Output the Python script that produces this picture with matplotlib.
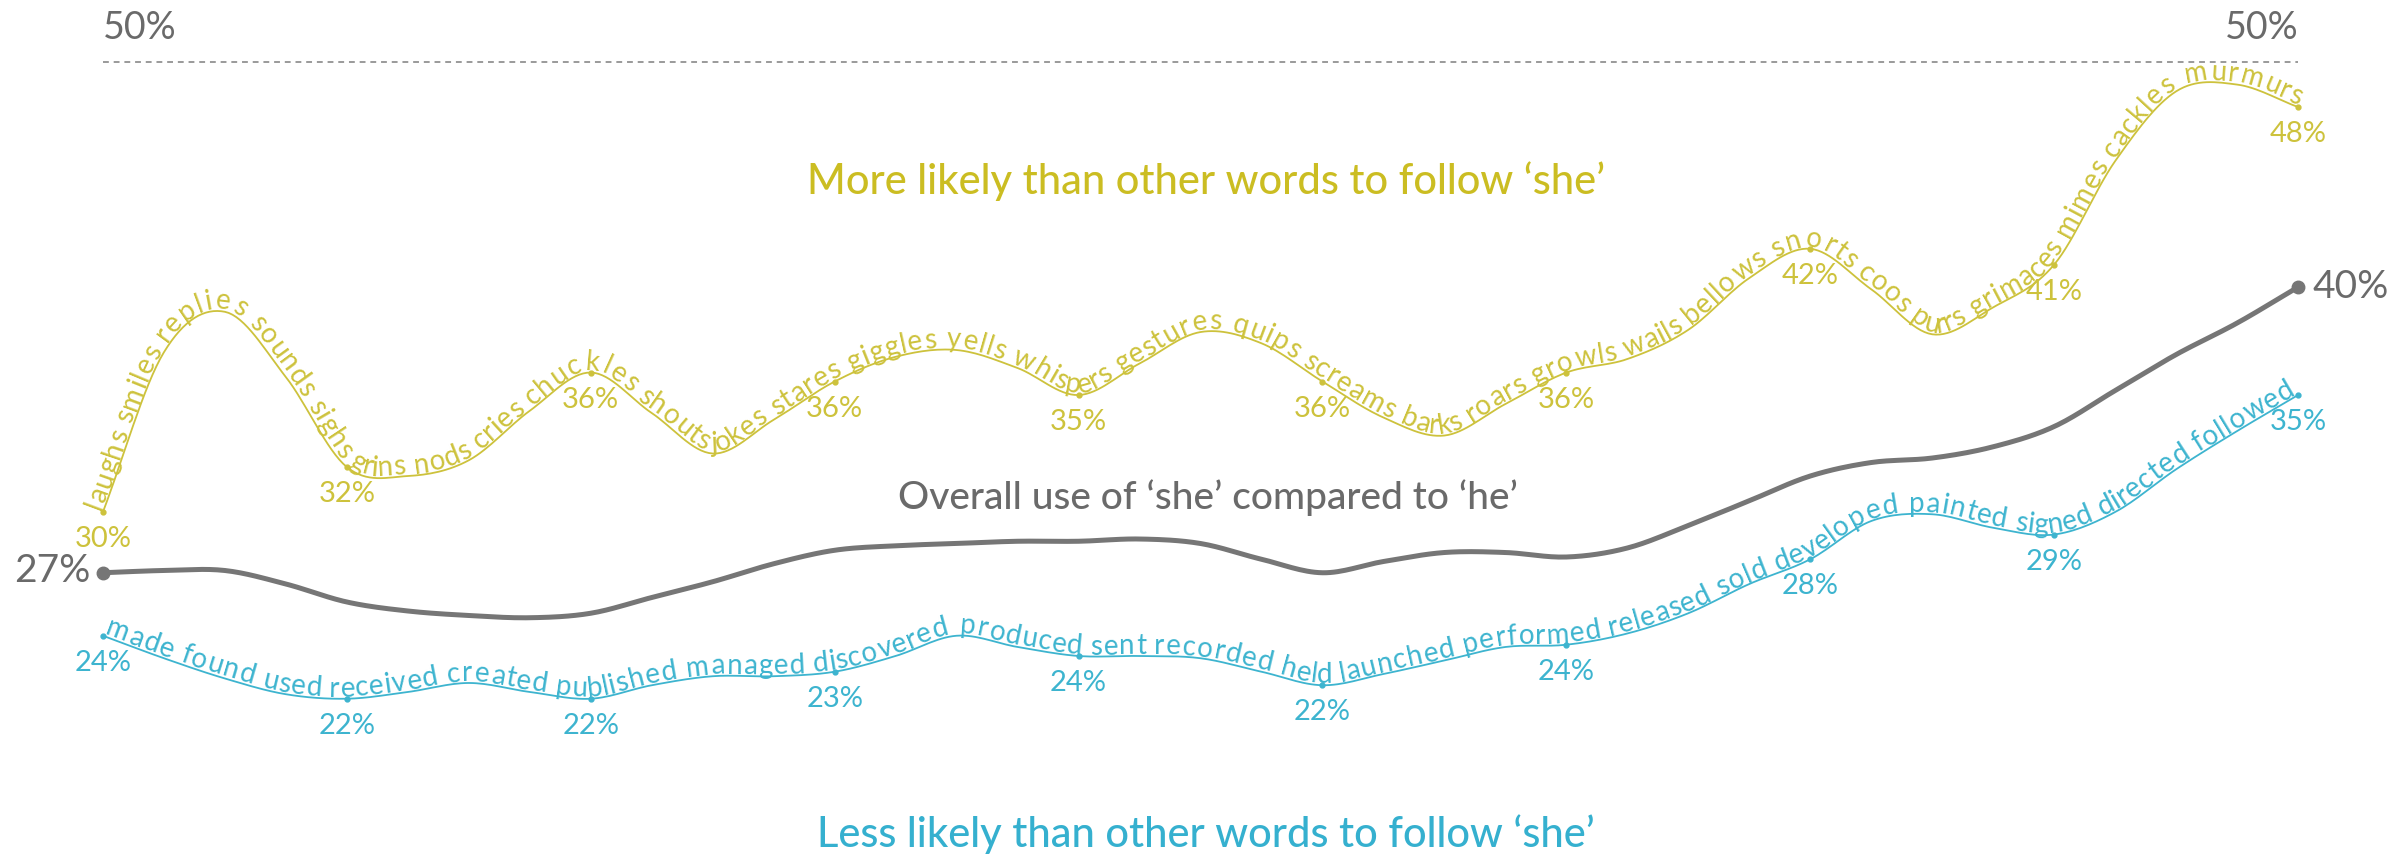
import numpy as np
import matplotlib
matplotlib.use("Agg")
import matplotlib.pyplot as plt
from matplotlib.font_manager import FontProperties, findfont, get_font
from matplotlib.transforms import IdentityTransform

# readings: 10 labelled points, three more readings between each pair
x = np.linspace(0, 9, 37)

overall_she = [27.3, 27.4, 27.4, 26.8, 26.0, 25.6, 25.4, 25.3, 25.5, 26.2,
               26.9, 27.7, 28.3, 28.5, 28.6, 28.7, 28.7, 28.8, 28.6, 27.9,
               27.3, 27.8, 28.2, 28.2, 28.0, 28.4, 29.4, 30.5, 31.6, 32.2,
               32.4, 32.9, 33.8, 35.4, 37.0, 38.4, 40.0]

more_likely = [30.0, 37.1, 38.9, 36.0, 32.0, 31.6, 32.3, 34.5, 36.2, 34.4,
               32.6, 34.1, 35.8, 36.9, 37.2, 36.4, 35.2, 36.6, 38.0, 37.5,
               35.8, 34.2, 33.4, 34.8, 36.2, 36.8, 38.1, 40.4, 41.7, 39.9,
               37.9, 39.1, 41.0, 45.6, 48.7, 49.0, 48.0]

less_likely = [24.5, 23.5, 22.6, 21.9, 21.7, 22.0, 22.4, 22.0, 21.7, 22.3,
               22.7, 22.7, 22.9, 23.6, 24.5, 24.0, 23.6, 23.6, 23.5, 22.9,
               22.3, 22.8, 23.4, 24.0, 24.1, 24.6, 25.5, 26.8, 27.9, 29.6,
               29.9, 29.3, 29.0, 30.0, 31.9, 33.6, 35.2]

more_labels = ["30%", "32%", "36%", "36%", "35%", "36%", "36%", "42%", "41%", "48%"]
less_labels = ["24%", "22%", "22%", "23%", "24%", "22%", "24%", "28%", "29%", "35%"]
overall_labels = ["27%", "40%"]
ref_value = 50

more_words = ["laughs", "smiles", "replies", "sounds", "sighs", "grins", "nods",
              "cries", "chuckles", "shouts", "jokes", "stares", "giggles", "yells",
              "whispers", "gestures", "quips", "screams", "barks", "roars", "growls",
              "wails", "bellows", "snorts", "coos", "purrs", "grimaces", "mimes",
              "cackles", "murmurs"]
less_words = ["made", "found", "used", "received", "created", "published", "managed",
              "discovered", "produced", "sent", "recorded", "held", "launched",
              "performed", "released", "sold", "developed", "painted", "signed",
              "directed", "followed"]

W, H, DPI = 2402, 858, 100
FONT = "Lato"
YELLOW = "#cdc23c"
BLUE = "#3db4cf"
GREY = "#767676"
GREY_TXT = "#6a6a6a"

fig = plt.figure(figsize=(W / DPI, H / DPI), dpi=DPI)
ax = fig.add_axes([0, 0, 1, 1])
ax.set_xlim(-0.422, 9.426)
ax.set_ylim(14.62, 52.76)
ax.axis("off")


def smooth(xv, yv, n=16):
    # cubic hermite (catmull-rom) through the readings, just for drawing
    xv = np.asarray(xv, float)
    yv = np.asarray(yv, float)
    m = np.gradient(yv)
    t = np.linspace(0, 1, n, endpoint=False)
    h00 = 2 * t**3 - 3 * t**2 + 1
    h10 = t**3 - 2 * t**2 + t
    h01 = -2 * t**3 + 3 * t**2
    h11 = t**3 - t**2
    xs, ys = [], []
    for k in range(len(yv) - 1):
        xs.append(xv[k] + (xv[k + 1] - xv[k]) * t)
        ys.append(h00 * yv[k] + h10 * m[k] + h01 * yv[k + 1] + h11 * m[k + 1])
    xs.append([xv[-1]])
    ys.append([yv[-1]])
    return np.concatenate(xs), np.concatenate(ys)


def text_on_path(xs, ys, text, size, color, lift=2.0, pad0=0.0, pad1=0.0):
    pts = ax.transData.transform(np.c_[xs, ys])
    px, py = pts[:, 0], pts[:, 1]
    s = np.r_[0, np.cumsum(np.hypot(np.diff(px), np.diff(py)))]
    fp = FontProperties(family=FONT, size=size)
    font = get_font(findfont(fp))
    font.set_size(size, DPI)
    adv = np.array([font.load_char(ord(c)).linearHoriAdvance / 65536 for c in text])
    scale = (s[-1] - pad0 - pad1) / adv.sum()
    centers = pad0 + (np.cumsum(adv) - adv / 2) * scale
    for c, sc in zip(text, centers):
        if c == " ":
            continue
        cx = np.interp(sc, s, px)
        cy = np.interp(sc, s, py)
        dx = np.interp(sc + 5, s, px) - np.interp(sc - 5, s, px)
        dy = np.interp(sc + 5, s, py) - np.interp(sc - 5, s, py)
        ln = np.hypot(dx, dy)
        nx, ny = -dy / ln, dx / ln
        ax.text(cx + nx * lift, cy + ny * lift, c, transform=IdentityTransform(),
                fontproperties=fp, color=color, rotation=np.degrees(np.arctan2(dy, dx)),
                rotation_mode="anchor", ha="center", va="baseline", zorder=4)


# 50% reference line
ax.plot([x[0], x[-1]], [ref_value, ref_value], color="#9a9a9a", lw=1.4,
        ls=(0, (3, 2.5)), zorder=1)
ax.annotate(f"{ref_value}%", (x[0], ref_value), xytext=(0, 34), textcoords="offset pixels",
            ha="left", va="center", fontsize=27, family=FONT, color=GREY_TXT)
ax.annotate(f"{ref_value}%", (x[-1], ref_value), xytext=(0, 34), textcoords="offset pixels",
            ha="right", va="center", fontsize=27, family=FONT, color=GREY_TXT)

# overall line
gx, gy = smooth(x, overall_she)
ax.plot(gx, gy, color=GREY, lw=3.6, solid_capstyle="round", zorder=2)
ax.plot([x[0], x[-1]], [overall_she[0], overall_she[-1]], "o", color=GREY, ms=9, zorder=3)
ax.annotate(overall_labels[0], (x[0], overall_she[0]), xytext=(-12, 2), textcoords="offset pixels",
            ha="right", va="center", fontsize=28, family=FONT, color=GREY_TXT)
ax.annotate(overall_labels[1], (x[-1], overall_she[-1]), xytext=(14, 0), textcoords="offset pixels",
            ha="left", va="center", fontsize=28, family=FONT, color=GREY_TXT)

# word lines
for vals, labels, words, col in [(more_likely, more_labels, more_words, YELLOW),
                                 (less_likely, less_labels, less_words, BLUE)]:
    sx, sy = smooth(x, vals)
    ax.plot(sx, sy, color=col, lw=1.3, zorder=2)
    idx = np.arange(0, len(x), 4)
    ax.plot(x[idx], np.asarray(vals)[idx], "o", color=col, ms=3.5, zorder=3)
    for i, lab in zip(idx, labels):
        ax.annotate(lab, (x[i], vals[i]), xytext=(0, -27), textcoords="offset pixels",
                    ha="center", va="center", fontsize=21, family=FONT, color=col, zorder=5)
    text_on_path(sx, sy, " ".join(words), 20, col)

# captions
fig.text(1206 / W, 1 - 181 / H, "More likely than other words to follow \u2018she\u2019",
         ha="center", va="center", fontsize=30, family=FONT, weight="medium", color="#cbbd22")
fig.text(1208 / W, 1 - 498 / H, "Overall use of \u2018she\u2019 compared to \u2018he\u2019",
         ha="center", va="center", fontsize=28, family=FONT, weight="medium", color=GREY_TXT)
fig.text(1206 / W, 1 - 834 / H, "Less likely than other words to follow \u2018she\u2019",
         ha="center", va="center", fontsize=30, family=FONT, weight="medium", color="#35b0cf")

fig.savefig("out.png", dpi=DPI, facecolor="white")
